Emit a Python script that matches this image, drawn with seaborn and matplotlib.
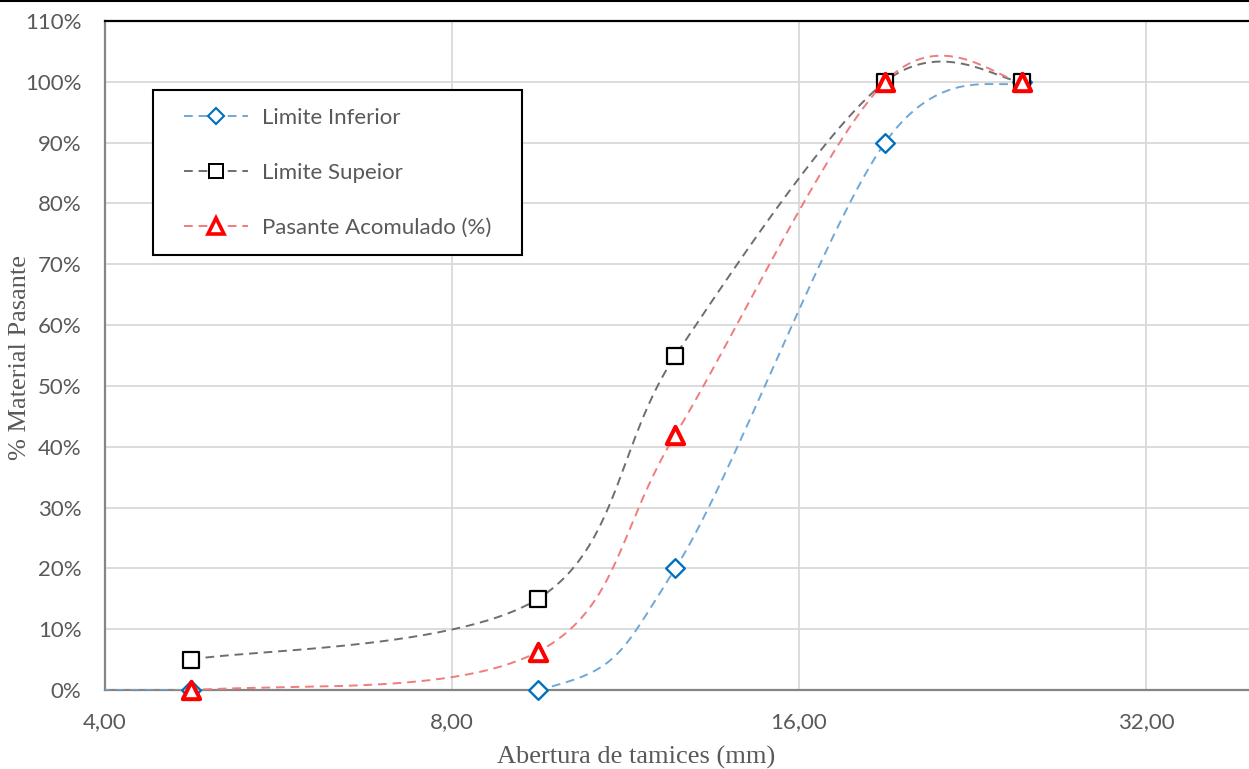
import numpy as np
import pandas as pd
import matplotlib
matplotlib.use("Agg")
import matplotlib.pyplot as plt
from matplotlib.lines import Line2D
from matplotlib.patches import Rectangle
from matplotlib.ticker import FixedLocator, FuncFormatter, NullLocator
import seaborn as sns

# Sieve openings (mm) and percent passing
sieve_mm = [2.36, 4.75, 9.5, 12.5, 19.0, 25.0]
limite_inferior = [0, 0, 0, 20, 90, 100]
sieve_sup_mm = [4.75, 9.5, 12.5, 19.0, 25.0]
limite_superior = [5, 15, 55, 100, 100]
pasante_acumulado = [0, 0, 6.3, 42, 100, 100]

x_ticks = [4, 8, 16, 32]
y_ticks = [0, 10, 20, 30, 40, 50, 60, 70, 80, 90, 100, 110]

series_labels = ["Limite Inferior", "Limite Supeior", "Pasante Acomulado (%)"]

sns.set_theme(style="white")
plt.rcParams["font.family"] = ["Lato", "DejaVu Sans"]

W, H = 1249, 769
fig = plt.figure(figsize=(W / 100, H / 100), dpi=100)
ax_l, ax_r, ax_t, ax_b = 105, 1249, 21, 690
ax = fig.add_axes([ax_l / W, 1 - ax_b / H, (ax_r - ax_l) / W, (ax_b - ax_t) / H])

ax.set_xscale("log", base=2)
x_max = 4 * 2 ** ((ax_r - ax_l) / 347)
ax.set_xlim(4, x_max)
ax.set_ylim(0, 110)


def smooth_curve(xs, ys, steps=60):
    """Cardinal (Catmull-Rom) Bezier smoothing computed in display space."""
    pts = ax.transData.transform(np.column_stack([xs, ys]))
    n = len(pts)
    ext = np.vstack([pts[0], pts, pts[-1]])
    out = []
    t = np.linspace(0, 1, steps)[:, None]
    for i in range(n - 1):
        p0 = ext[i + 1]
        p3 = ext[i + 2]
        c1 = p0 + (ext[i + 2] - ext[i]) / 6.0
        c2 = p3 - (ext[i + 3] - ext[i + 1]) / 6.0
        seg = ((1 - t) ** 3) * p0 + 3 * ((1 - t) ** 2) * t * c1 + 3 * (1 - t) * t ** 2 * c2 + t ** 3 * p3
        out.append(seg if i == 0 else seg[1:])
    curve = ax.transData.inverted().transform(np.vstack(out))
    return curve[:, 0], curve[:, 1]


styles = [
    dict(x=sieve_mm, y=limite_inferior, line="#6fa8d8", marker="D", ms=9.5,
         mec="#0070c0", mew=1.7),
    dict(x=sieve_sup_mm, y=limite_superior, line="#6e6e6e", marker="s", ms=11.5,
         mec="#000000", mew=1.6),
    dict(x=sieve_mm, y=pasante_acumulado, line="#f07c7c", marker="^", ms=12.5,
         mec="#ff0000", mew=2.9),
]

# Gridlines
ax.grid(True, axis="both", color="#d9d9d9", linewidth=1.3)
ax.set_axisbelow(True)

handles = []
for st, lab in zip(styles, series_labels):
    cx, cy = smooth_curve(st["x"], st["y"])
    curve_df = pd.DataFrame({"x": cx, "y": cy})
    sns.lineplot(data=curve_df, x="x", y="y", ax=ax, sort=False, estimator=None,
                 color=st["line"], linewidth=1.4, zorder=3)
    ax.lines[-1].set_linestyle((0, (4.5, 3)))
    pts_df = pd.DataFrame({"x": st["x"], "y": st["y"]})
    pts_df = pts_df[pts_df["x"] >= 4]
    sns.scatterplot(data=pts_df, x="x", y="y", ax=ax, marker=st["marker"],
                    s=st["ms"] ** 2, facecolor="white", edgecolor=st["mec"],
                    linewidth=st["mew"], zorder=6)
    ax.collections[-1].set_clip_on(False)
    handles.append(Line2D([0], [0], color=st["line"], linewidth=1.4,
                          linestyle=(0, (4.5, 3)), marker=st["marker"],
                          markersize=st["ms"] * 0.9, markerfacecolor="white",
                          markeredgecolor=st["mec"], markeredgewidth=st["mew"] * 0.9))

# Ticks
ax.xaxis.set_major_locator(FixedLocator(x_ticks))
ax.xaxis.set_minor_locator(NullLocator())
ax.xaxis.set_major_formatter(FuncFormatter(lambda v, p: f"{v:.2f}".replace(".", ",")))
ax.yaxis.set_major_locator(FixedLocator(y_ticks))
ax.yaxis.set_major_formatter(FuncFormatter(lambda v, p: f"{v:.0f}%"))
ax.tick_params(axis="both", length=0, labelsize=16, labelcolor="#595959")
ax.tick_params(axis="x", pad=16)
ax.tick_params(axis="y", pad=17)

# Spines
ax.spines["right"].set_visible(False)
ax.spines["top"].set_color("black")
ax.spines["top"].set_linewidth(1.6)
for side in ("left", "bottom"):
    ax.spines[side].set_color("#858585")
    ax.spines[side].set_linewidth(1.6)

# Axis titles
ax.set_xlabel("Abertura de tamices (mm)", fontfamily="Liberation Serif",
              fontsize=19, color="#595959")
ax.set_ylabel("% Material Pasante", fontfamily="Liberation Serif",
              fontsize=19, color="#595959")
ax.xaxis.set_label_coords((636 - ax_l) / (ax_r - ax_l), (ax_b - 746) / (ax_b - ax_t))
ax.yaxis.set_label_coords((31 - ax_l) / (ax_r - ax_l), (ax_b - 357) / (ax_b - ax_t))

# Legend box
box_l, box_t, box_r, box_bt = 153, 90, 522, 255
ax.add_patch(Rectangle(((box_l - ax_l) / (ax_r - ax_l), (ax_b - box_bt) / (ax_b - ax_t)),
                       (box_r - box_l) / (ax_r - ax_l), (box_bt - box_t) / (ax_b - ax_t),
                       transform=ax.transAxes, facecolor="white", edgecolor="black",
                       linewidth=1.5, zorder=7, clip_on=False))
leg = ax.legend(handles, series_labels, loc="upper left", frameon=False,
                bbox_to_anchor=((184 - ax_l) / (ax_r - ax_l), (ax_b - 108) / (ax_b - ax_t)),
                borderpad=0, borderaxespad=0, fontsize=16, handlelength=2.9,
                handletextpad=0.6, labelspacing=1.57, labelcolor="#595959")
leg.set_zorder(8)

# Frame line along the top edge of the image
fig.add_artist(Line2D([0, 1], [1 - 1 / H, 1 - 1 / H], transform=fig.transFigure,
                      color="black", linewidth=1.5))

fig.savefig("out.png", dpi=100)
